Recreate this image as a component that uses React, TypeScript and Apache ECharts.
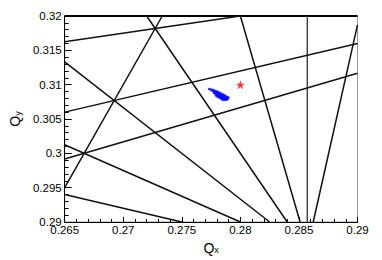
import React, { useEffect, useRef } from "react";
import * as echarts from "echarts";

// Axis ranges (tune space)
const qxRange = [0.265, 0.29];
const qyRange = [0.29, 0.32];

// Top boundary line Qy = 0.32
const topEdgeLine = [
  [0.265, 0.32],
  [0.29, 0.32],
];

// Vertical resonance 7Qx = 2
const verticalLine = [
  [0.285714, 0.29],
  [0.285714, 0.32],
];

// Resonance lines, each as its two end points [Qx, Qy]
const resonanceLines = [
  [[0.265, 0.31625], [0.28, 0.32]], // 4Qy - Qx = 1
  [[0.265, 0.306], [0.29, 0.316]], // 5Qy - 2Qx = 1
  [[0.265, 0.29917], [0.29, 0.31167]], // 6Qy - 3Qx = 1
  [[0.265, 0.295], [0.27333, 0.32]], // 6Qx - 2Qy = 1
  [[0.265, 0.294], [0.275, 0.29]], // 2Qx + 5Qy = 2
  [[0.265, 0.30125], [0.28, 0.29]], // 3Qx + 4Qy = 2
  [[0.265, 0.31333], [0.2825, 0.29]], // 4Qx + 3Qy = 2
  [[0.272, 0.32], [0.284, 0.29]], // 5Qx + 2Qy = 2
  [[0.28, 0.32], [0.2851, 0.29]], // 6Qx + Qy = 2
  [[0.28622, 0.29], [0.29, 0.3187]], // 8Qx - Qy = 2
];

// Measured beam tunes (blue cloud)
const beamTunes = [
  [0.27734, 0.30937], [0.27746, 0.3093], [0.27754, 0.30915], [0.27763, 0.30925], [0.27767, 0.30908],
  [0.27775, 0.30915], [0.27775, 0.30893], [0.27775, 0.30879],
  [0.27787, 0.30908], [0.27787, 0.30886], [0.27787, 0.30864],
  [0.278, 0.30901], [0.278, 0.30879], [0.278, 0.30857], [0.278, 0.30842],
  [0.27812, 0.30893], [0.27812, 0.30871], [0.27812, 0.3085], [0.27812, 0.30828],
  [0.27824, 0.30879], [0.27824, 0.30857], [0.27824, 0.30835], [0.27824, 0.3082],
  [0.27837, 0.30871], [0.27837, 0.3085], [0.27837, 0.30828], [0.27837, 0.30806],
  [0.27849, 0.30857], [0.27849, 0.30835], [0.27849, 0.30813], [0.27849, 0.30799],
  [0.27861, 0.3085], [0.27861, 0.30828], [0.27861, 0.30806], [0.27861, 0.30791],
  [0.27874, 0.30835], [0.27874, 0.30813], [0.27874, 0.30791],
  [0.27886, 0.3082], [0.27886, 0.30799], [0.27886, 0.30784],
  [0.27894, 0.30806],
  [0.27791, 0.30842], [0.27807, 0.3082], [0.27824, 0.30806], [0.2784, 0.30784],
  [0.27857, 0.30777], [0.27873, 0.30777], [0.2789, 0.30791], [0.27898, 0.30813],
];

// Working point (red star)
const designTune = [[0.28, 0.31]];

const FONT = '"Liberation Sans", Arial, Helvetica, sans-serif';
const STAR =
  "path://M50,0 L61,35 L98,35 L68,57 L79,91 L50,70 L21,91 L32,57 L2,35 L39,35 Z";

const fmt = (v: number) => String(parseFloat(v.toFixed(4)));

const richName = {
  q: { fontSize: 14, fontFamily: FONT, color: "#000" },
  s: { fontSize: 9, fontFamily: FONT, color: "#000", verticalAlign: "bottom", lineHeight: 14 },
};

export default function App() {
  const ref = useRef<HTMLDivElement>(null);
  useEffect(() => {
    if (!ref.current) return;
    const chart = echarts.init(ref.current, undefined, { renderer: "svg" });
    const lineSeries = (data: number[][], color: string, width: number) => ({
      type: "line",
      data,
      symbol: "none",
      showSymbol: false,
      clip: false,
      silent: true,
      lineStyle: { color, width },
      z: 2,
    });
    chart.setOption({
      animation: false,
      backgroundColor: "#fff",
      grid: {
        left: 52.5,
        right: 24.5,
        top: 16,
        bottom: 38,
        show: true,
        borderColor: "#9a9a9a",
        borderWidth: 1,
        backgroundColor: "transparent",
      },
      xAxis: {
        type: "value",
        min: qxRange[0],
        max: qxRange[1],
        interval: 0.005,
        name: "{q|Q}{s|x}",
        nameLocation: "middle",
        nameGap: 15,
        nameTextStyle: { rich: richName },
        axisLine: { show: true, onZero: false, lineStyle: { color: "#000", width: 1 } },
        axisTick: { show: true, inside: true, length: 5, lineStyle: { color: "#000" } },
        minorTick: { show: true, splitNumber: 5, length: 3, lineStyle: { color: "#000" } },
        axisLabel: { margin: 2, fontSize: 11.5, fontFamily: FONT, color: "#000", formatter: fmt },
        splitLine: { show: false },
      },
      yAxis: {
        type: "value",
        min: qyRange[0],
        max: qyRange[1],
        interval: 0.005,
        name: "{q|Q}{s|y}",
        nameLocation: "middle",
        nameGap: 36,
        nameTextStyle: { rich: richName },
        axisLine: { show: true, onZero: false, lineStyle: { color: "#000", width: 1 } },
        axisTick: { show: true, inside: true, length: 7, lineStyle: { color: "#000" } },
        minorTick: { show: true, splitNumber: 5, length: 4, lineStyle: { color: "#000" } },
        axisLabel: { margin: 3, fontSize: 11.5, fontFamily: FONT, color: "#000", formatter: fmt },
        splitLine: { show: false },
      },
      series: [
        lineSeries(topEdgeLine, "#000", 2),
        lineSeries(verticalLine, "#444", 1.5),
        ...resonanceLines.map((l) => lineSeries(l, "#111", 1.5)),
        {
          type: "scatter",
          data: beamTunes,
          symbol: "rect",
          symbolSize: 2.2,
          itemStyle: { color: "#0000ff" },
          z: 3,
        },
        {
          type: "scatter",
          data: designTune,
          symbol: STAR,
          symbolSize: 9,
          itemStyle: { color: "#ff0000" },
          z: 4,
        },
      ],
    });
    return () => chart.dispose();
  }, []);
  return (
    <div
      ref={ref}
      style={{ position: "absolute", left: 0, top: 0, width: 382, height: 260, background: "#fff" }}
    />
  );
}
